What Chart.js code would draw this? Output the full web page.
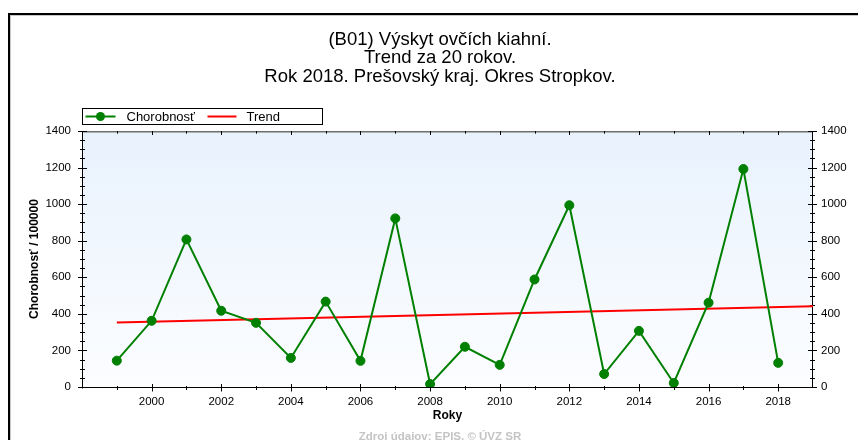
<!DOCTYPE html>
<html><head><meta charset="utf-8">
<script src="https://cdn.jsdelivr.net/npm/chart.js@4/dist/chart.umd.min.js"></script>
<style>html,body{margin:0;padding:0;background:#fff}#wrap{width:858px;height:440px;position:relative}canvas{display:block}</style>
</head><body><div id="wrap"><canvas id="c" width="858" height="440"></canvas></div>
<script>
// ---- data ----
const years = [1999,2000,2001,2002,2003,2004,2005,2006,2007,2008,2009,2010,2011,2012,2013,2014,2015,2016,2017,2018];
const incidence = [144,362,807,417,351,159,467,143,922,16,220,121,588,994,71,307,22,461,1192,132];
const trendYears = [1999, 2019];
const trendValues = [353, 441];
const titleLines = ['(B01) Výskyt ovčích kiahní.', 'Trend za 20 rokov.', 'Rok 2018. Prešovský kraj. Okres Stropkov.'];
const seriesLabels = ['Chorobnosť', 'Trend'];
const yAxisTitle = 'Chorobnosť / 100000';
const xAxisTitle = 'Roky';
const sourceNote = 'Zdroj údajov: EPIS, © ÚVZ SR';
const xRange = [1998, 2019];
const yRange = [0, 1400];
const yLabelStep = 200;
const yMinorStep = 50;

const FONT = '"Liberation Sans", Arial, sans-serif';
const GREEN = '#008000';
const RED = '#ff0000';

const decorPlugin = {
  id: 'decor',
  beforeDraw(chart) {
    const ctx = chart.ctx, ca = chart.chartArea;
    ctx.save();
    ctx.fillStyle = '#fff';
    ctx.fillRect(0, 0, chart.width, chart.height);
    // outer frame (open on right / bottom as in the reference crop)
    ctx.fillStyle = '#000';
    ctx.fillRect(8, 13, chart.width, 2);
    ctx.fillRect(8, 13, 2, chart.height);
    ctx.fillStyle = '#c8c8c8';
    ctx.fillRect(10, 15, chart.width, 1);
    ctx.fillRect(10, 15, 1, chart.height);
    // plot background gradient
    const g = ctx.createLinearGradient(0, ca.top, 0, ca.bottom);
    g.addColorStop(0, '#e8f2fd');
    g.addColorStop(1, '#fcfdff');
    ctx.fillStyle = g;
    ctx.fillRect(ca.left, ca.top, ca.right - ca.left, ca.bottom - ca.top);
    ctx.restore();
  },
  beforeDatasetsDraw(chart) {
    const ctx = chart.ctx, ca = chart.chartArea;
    const xs = chart.scales.x, ys = chart.scales.y;
    const L = ca.left + 0.5, R = ca.right - 0.5, B = ca.bottom + 0.5;
    ctx.save();
    // top border (gray)
    ctx.strokeStyle = '#6e6e6e';
    ctx.lineWidth = 1.5;
    ctx.beginPath(); ctx.moveTo(ca.left, ca.top + 0.75); ctx.lineTo(ca.right, ca.top + 0.75); ctx.stroke();
    ctx.lineWidth = 1;
    ctx.strokeStyle = '#000';
    ctx.beginPath();
    ctx.moveTo(L, ca.top); ctx.lineTo(L, B + 1);
    ctx.moveTo(ca.left - 3, B); ctx.lineTo(ca.right, B);
    ctx.moveTo(R, ca.top); ctx.lineTo(R, B);
    // y ticks (both sides)
    for (let v = yRange[0]; v <= yRange[1]; v += yMinorStep) {
      const p = Math.round(ys.getPixelForValue(v)) + 0.5;
      const h = (v % yLabelStep === 0) ? 4.5 : 2.5;
      ctx.moveTo(L - h, p); ctx.lineTo(L + h, p);
      ctx.moveTo(R - h, p); ctx.lineTo(R + h, p);
    }
    // x ticks (bottom + top)
    for (let yr = xRange[0] + 1; yr < xRange[1]; yr++) {
      const p = Math.round(xs.getPixelForValue(yr)) + 0.5;
      const major = yr % 2 === 0;
      ctx.moveTo(p, B - (major ? 3.5 : 1.5)); ctx.lineTo(p, B + (major ? 4 : 2.5));
      ctx.moveTo(p, ca.top); ctx.lineTo(p, ca.top + (major ? 4 : 2.7));
    }
    ctx.stroke();
    ctx.restore();
  },
  afterDraw(chart) {
    const ctx = chart.ctx, ca = chart.chartArea;
    ctx.save();
    // legend box
    const bx = ca.left + 0.5, by = ca.top - 22.5, bw = 240, bh = 16, cy = by + 8;
    ctx.fillStyle = '#fff';
    ctx.fillRect(bx, by, bw, bh);
    ctx.strokeStyle = '#000'; ctx.lineWidth = 1;
    ctx.strokeRect(bx, by, bw, bh);
    ctx.strokeStyle = GREEN; ctx.lineWidth = 2;
    ctx.beginPath(); ctx.moveTo(bx + 3, cy); ctx.lineTo(bx + 33, cy); ctx.stroke();
    ctx.fillStyle = GREEN;
    ctx.beginPath(); ctx.arc(bx + 18, cy, 4.5, 0, Math.PI * 2); ctx.fill();
    ctx.strokeStyle = RED;
    ctx.beginPath(); ctx.moveTo(bx + 125, cy); ctx.lineTo(bx + 154, cy); ctx.stroke();
    ctx.fillStyle = '#000';
    ctx.font = '13px ' + FONT;
    ctx.textBaseline = 'middle'; ctx.textAlign = 'left';
    ctx.fillText(seriesLabels[0], bx + 44, cy + 0.5);
    ctx.fillText(seriesLabels[1], bx + 164, cy + 0.5);
    // source note
    ctx.fillStyle = '#c4c4c4';
    ctx.font = 'bold 11.5px ' + FONT;
    ctx.textAlign = 'center'; ctx.textBaseline = 'alphabetic';
    ctx.fillText(sourceNote, 440, 440);
    ctx.restore();
  }
};

const tickFont = { family: FONT, size: 11.5 };
new Chart(document.getElementById('c'), {
  type: 'line',
  data: {
    datasets: [
      {
        label: seriesLabels[0],
        data: years.map((yr, i) => ({ x: yr, y: incidence[i] })),
        borderColor: GREEN, backgroundColor: GREEN,
        borderWidth: 2, tension: 0,
        pointRadius: 4.5, pointBackgroundColor: GREEN, pointBorderColor: GREEN, pointBorderWidth: 1
      },
      {
        label: seriesLabels[1],
        data: trendYears.map((yr, i) => ({ x: yr, y: trendValues[i] })),
        borderColor: RED, borderWidth: 2, pointRadius: 0, tension: 0
      }
    ]
  },
  options: {
    responsive: false, animation: false, devicePixelRatio: 1,
    layout: { padding: { left: 22, right: 0, top: 0, bottom: 0 } },
    plugins: {
      legend: { display: false },
      tooltip: { enabled: false },
      title: {
        display: true, text: titleLines, color: '#000', align: 'center',
        font: { family: FONT, size: 18.5, weight: 'normal', lineHeight: '18.6px' },
        padding: { top: 30.5, bottom: 44.7 }
      }
    },
    scales: {
      x: {
        type: 'linear', min: xRange[0], max: xRange[1],
        afterFit(s) { s.height = 53; },
        grid: { display: false, drawTicks: false }, border: { display: false },
        ticks: {
          stepSize: 1, autoSkip: false, maxRotation: 0, padding: 7.6, color: '#000', font: tickFont,
          callback: v => (v % 2 === 0 && v > xRange[0] && v < xRange[1]) ? String(v) : ''
        },
        title: { display: true, text: xAxisTitle, color: '#000', font: { family: FONT, size: 12, weight: 'bold' }, padding: { top: 0, bottom: 17.5 } }
      },
      y: {
        position: 'left', min: yRange[0], max: yRange[1],
        afterFit(s) { s.width = 60; },
        grid: { display: false, drawTicks: false }, border: { display: false },
        ticks: { stepSize: yLabelStep, padding: 11, color: '#000', font: tickFont, callback: v => String(v) },
        title: { display: true, text: yAxisTitle, color: '#000', font: { family: FONT, size: 12, weight: 'bold' }, padding: { top: 5, bottom: 0 } }
      },
      y2: {
        position: 'right', min: yRange[0], max: yRange[1],
        afterFit(s) { s.width = 45; },
        grid: { display: false, drawTicks: false }, border: { display: false },
        ticks: { stepSize: yLabelStep, padding: 8, color: '#000', font: tickFont, callback: v => String(v) }
      }
    }
  },
  plugins: [decorPlugin]
});
</script>
</body></html>
